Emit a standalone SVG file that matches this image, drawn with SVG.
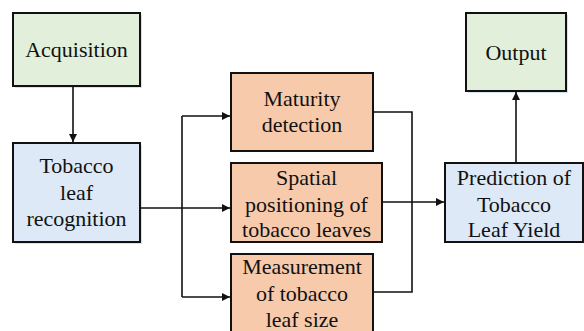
<svg xmlns="http://www.w3.org/2000/svg" width="584" height="331" viewBox="0 0 584 331">
<defs>
<style>
.box{stroke:#111;stroke-width:2}
.g{fill:#e2efda}
.b{fill:#dde9f6}
.o{fill:#f7caac}
.sh{fill:#d6e2f0}
.t{font-family:'Liberation Serif','Times New Roman',Times,serif;font-size:22px;fill:#111;text-anchor:middle}
.c{fill:none;stroke:#111;stroke-width:1.6}
</style>
<marker id="ah" viewBox="0 0 10 10" refX="10" refY="5" markerWidth="9" markerHeight="8" markerUnits="userSpaceOnUse" orient="auto">
<path d="M0,0 L10,5 L0,10 z" fill="#111"/>
</marker>
</defs>
<rect width="584" height="331" fill="#fff"/>
<g class="t" font-family="Liberation Serif, serif">
<g id="acquisition">
<rect class="sh" x="15" y="15" width="127" height="73"/>
<rect class="box g" x="13" y="13" width="127" height="73"/>
<text x="76.5" y="57">Acquisition</text>
</g>
<g id="recognition">
<rect class="sh" x="15" y="145" width="127" height="99"/>
<rect class="box b" x="13" y="143" width="127" height="99"/>
<text x="76.5" y="173">Tobacco</text>
<text x="76.5" y="200">leaf</text>
<text x="76.5" y="226">recognition</text>
</g>
<g id="maturity">
<rect class="box o" x="231" y="73" width="142" height="78"/>
<text x="302" y="106">Maturity</text>
<text x="302" y="132">detection</text>
</g>
<g id="spatial">
<rect class="box o" x="231" y="163" width="151" height="79"/>
<text x="306.5" y="185">Spatial</text>
<text x="306.5" y="212">positioning of</text>
<text x="306.5" y="237">tobacco leaves</text>
</g>
<g id="measurement">
<rect class="box o" x="231" y="254" width="142" height="82"/>
<text x="302" y="274">Measurement</text>
<text x="302" y="301">of tobacco</text>
<text x="302" y="327">leaf size</text>
</g>
<g id="prediction">
<rect class="box b" x="445" y="163" width="138" height="79"/>
<text x="514" y="185">Prediction of</text>
<text x="514" y="212">Tobacco</text>
<text x="514" y="237">Leaf Yield</text>
</g>
<g id="output">
<rect class="sh" x="468" y="15" width="100" height="78"/>
<rect class="box g" x="466" y="13" width="100" height="78"/>
<text x="516" y="60">Output</text>
</g>
</g>
<g id="connectors">
<path class="c" d="M73,87 V142" marker-end="url(#ah)"/>
<path class="c" d="M140,208 H230" marker-end="url(#ah)"/>
<path class="c" d="M182,116 V297"/>
<path class="c" d="M182,116 H230" marker-end="url(#ah)"/>
<path class="c" d="M182,297 H230" marker-end="url(#ah)"/>
<path class="c" d="M373,112 H412 V292 H373"/>
<path class="c" d="M382,202 H444" marker-end="url(#ah)"/>
<path class="c" d="M516,163 V92" marker-end="url(#ah)"/>
</g>
</svg>
